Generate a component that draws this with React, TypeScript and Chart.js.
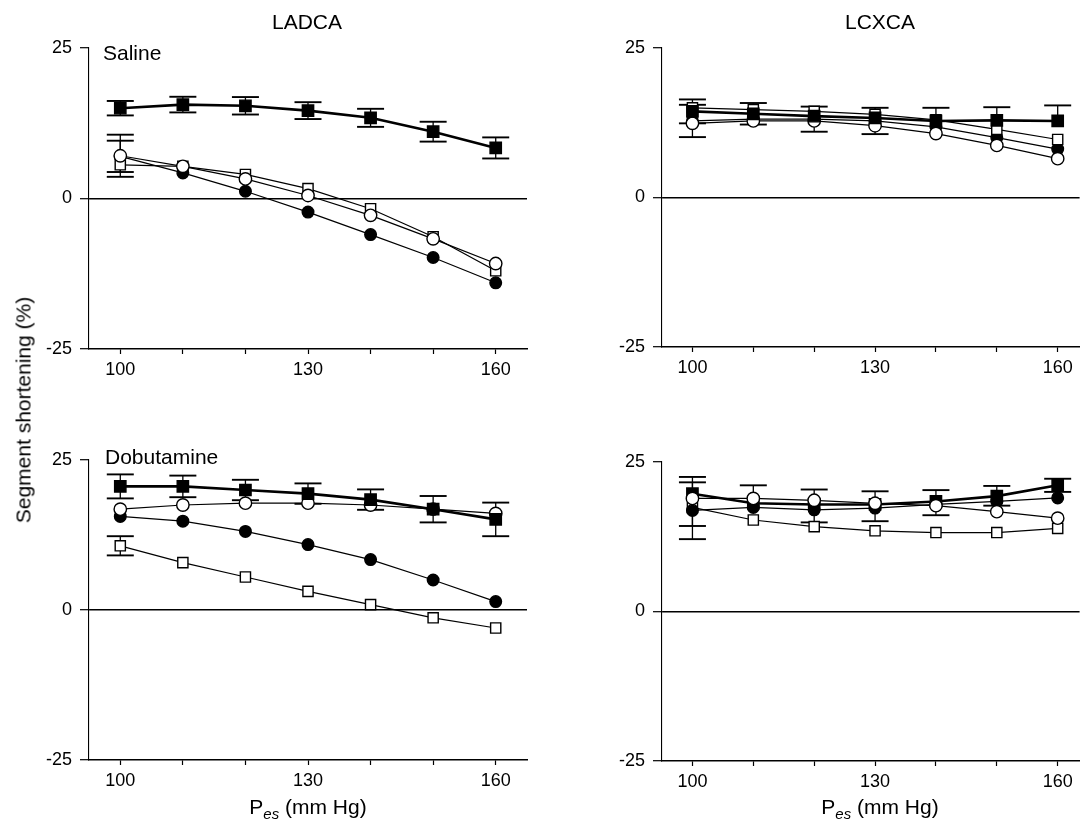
import React, { useEffect, useRef } from "react";
import { Chart, registerables } from "chart.js";

Chart.register(...registerables);

// ---------- data ----------
const pressure = [100, 110, 120, 130, 140, 150, 160];
const xTickValues = [100, 110, 120, 130, 140, 150, 160];
const xLabelled = [100, 130, 160];
const yTickValues = [-25, 0, 25];

// LADCA, saline
const ladSalFilledSq = [15.0, 15.6, 15.4, 14.6, 13.4, 11.1, 8.4];
const ladSalFilledSqErr = [1.2, 1.3, 1.45, 1.4, 1.5, 1.65, 1.75];
const ladSalOpenSq = [5.6, 5.35, 4.0, 1.65, -1.7, -6.35, -12.0];
const ladSalFilledCi = [7.0, 4.25, 1.2, -2.25, -6.0, -9.8, -14.0];
const ladSalFilledCiErr = [2.6, 0, 0, 0, 0, 0, 0];
const ladSalOpenCi = [7.1, 5.35, 3.25, 0.5, -2.8, -6.7, -10.8];
const ladSalOpenCiErr = [3.5, 0, 0, 0, 0, 0, 0];

// LCXCA, saline
const lcxSalFilledSq = [14.4, 14.0, 13.6, 13.3, 12.8, 12.9, 12.8];
const lcxSalFilledSqErrUp = [2.0, 1.8, 0, 0, 2.2, 2.2, 2.6];
const lcxSalFilledSqErrDown = [2.0, 1.8, 0, 0, 0, 0, 0];
const lcxSalOpenSq = [15.0, 14.7, 14.4, 13.9, 13.0, 11.4, 9.7];
const lcxSalFilledCi = [12.8, 13.1, 13.1, 12.8, 11.8, 10.0, 8.1];
const lcxSalFilledCiErr = [2.7, 0, 2.1, 2.2, 0, 0, 0];
const lcxSalOpenCi = [12.4, 12.8, 12.8, 12.0, 10.7, 8.7, 6.5];

// LADCA, dobutamine
const ladDobFilledSq = [20.6, 20.6, 20.0, 19.4, 18.4, 16.8, 15.1];
const ladDobFilledSqErr = [2.0, 1.8, 1.7, 1.7, 1.7, 2.2, 2.8];
const ladDobOpenSq = [10.7, 7.9, 5.5, 3.1, 0.9, -1.3, -3.0];
const ladDobOpenSqErr = [1.6, 0, 0, 0, 0, 0, 0];
const ladDobFilledCi = [15.6, 14.8, 13.1, 10.9, 8.4, 5.0, 1.4];
const ladDobOpenCi = [16.8, 17.5, 17.8, 17.8, 17.5, 16.8, 16.1];

// LCXCA, dobutamine
const lcxDobFilledSq = [19.7, 18.1, 17.9, 17.9, 18.4, 19.3, 21.1];
const lcxDobFilledSqErrUp = [2.8, 0, 0, 0, 1.9, 1.7, 1.1];
const lcxDobFilledSqErrDown = [0, 0, 0, 0, 0, 0, 1.1];
const lcxDobOpenSq = [17.4, 15.3, 14.2, 13.5, 13.2, 13.2, 13.9];
const lcxDobOpenSqErrDown = [3.1, 0, 0, 0, 0, 0, 0];
const lcxDobFilledCi = [16.9, 17.4, 17.0, 17.3, 17.9, 18.4, 19.0];
const lcxDobFilledCiErrDown = [4.8, 0, 2.1, 2.2, 0, 0.7, 0];
const lcxDobOpenCi = [18.9, 18.9, 18.6, 18.1, 17.7, 16.7, 15.6];
const lcxDobOpenCiErrUp = [2.7, 2.2, 1.8, 2.0, 0, 0, 0];
const lcxDobOpenCiErrDown = [0, 0, 0, 0, 1.6, 0, 0];

const zeros = [0, 0, 0, 0, 0, 0, 0];
const FONT = "'Liberation Sans', Arial, Helvetica, sans-serif";

type Kind = "fsq" | "osq" | "fci" | "oci";

function makeDataset(kind: Kind, values: number[], errUp: number[] = zeros, errDown: number[] = errUp) {
  const filled = kind === "fsq" || kind === "fci";
  const square = kind === "fsq" || kind === "osq";
  return {
    data: pressure.map((p, i) => ({ x: p, y: values[i] })),
    errUp,
    errDown,
    borderColor: "#000",
    borderWidth: kind === "fsq" ? 2.6 : 1.25,
    backgroundColor: filled ? "#000" : "#fff",
    pointStyle: square ? "rect" : "circle",
    pointRadius: square ? (kind === "fsq" ? 8 : 7.2) : kind === "fci" ? 5.8 : 6.2,
    pointBackgroundColor: filled ? "#000" : "#fff",
    pointBorderColor: "#000",
    pointBorderWidth: 1.4,
    tension: 0,
    fill: false,
  };
}

const errorBarPlugin = {
  id: "errorBars",
  beforeDatasetsDraw(chart: any) {
    const { ctx } = chart;
    const xs = chart.scales.x;
    const ys = chart.scales.y;
    ctx.save();
    ctx.strokeStyle = "#000";
    chart.data.datasets.forEach((ds: any) => {
      ds.data.forEach((p: any, j: number) => {
        const up = ds.errUp ? ds.errUp[j] : 0;
        const dn = ds.errDown ? ds.errDown[j] : 0;
        const px = xs.getPixelForValue(p.x);
        const py = ys.getPixelForValue(p.y);
        const half = 13.5;
        const draw = (e: number) => {
          if (!e) return;
          const ey = ys.getPixelForValue(p.y + e);
          ctx.lineWidth = 1.3;
          ctx.beginPath();
          ctx.moveTo(px, py);
          ctx.lineTo(px, ey);
          ctx.stroke();
          ctx.lineWidth = 1.9;
          ctx.beginPath();
          ctx.moveTo(px - half, ey);
          ctx.lineTo(px + half, ey);
          ctx.stroke();
        };
        draw(up);
        draw(-dn);
      });
    });
    ctx.restore();
  },
};

interface PanelProps {
  left: number;
  top: number;
  width: number;
  height: number;
  yAxisWidth: number;
  xAxisHeight: number;
  padTop: number;
  padRight: number;
  xMax: number;
  datasets: any[];
}

function Panel(props: PanelProps) {
  const ref = useRef<HTMLCanvasElement | null>(null);
  useEffect(() => {
    if (!ref.current) return;
    const chart = new Chart(ref.current, {
      type: "line",
      data: { datasets: props.datasets },
      plugins: [errorBarPlugin],
      options: {
        animation: false,
        responsive: false,
        events: [],
        layout: { padding: { top: props.padTop, right: props.padRight, left: 0, bottom: 0 } },
        plugins: { legend: { display: false }, tooltip: { enabled: false }, title: { display: false } },
        scales: {
          x: {
            type: "linear",
            min: 95,
            max: props.xMax,
            afterBuildTicks: (s: any) => {
              s.ticks = xTickValues.map((v) => ({ value: v }));
            },
            afterFit: (s: any) => {
              s.height = props.xAxisHeight;
            },
            ticks: {
              autoSkip: false,
              maxRotation: 0,
              color: "#000",
              padding: 5,
              font: { family: FONT, size: 18 },
              callback: (v: any) => (xLabelled.includes(Number(v)) ? String(v) : ""),
            },
            grid: { display: true, drawOnChartArea: false, drawTicks: true, tickLength: 5, tickColor: "#000", tickWidth: 1.2 },
            border: { display: true, color: "#000", width: 1.4 },
          },
          y: {
            type: "linear",
            min: -25,
            max: 25,
            afterBuildTicks: (s: any) => {
              s.ticks = yTickValues.map((v) => ({ value: v }));
            },
            afterFit: (s: any) => {
              s.width = props.yAxisWidth;
            },
            ticks: {
              color: "#000",
              padding: 8,
              font: { family: FONT, size: 18 },
              callback: (v: any) => String(v),
            },
            grid: {
              display: true,
              drawOnChartArea: true,
              drawTicks: true,
              tickLength: 9,
              tickColor: "#000",
              tickWidth: 1.2,
              lineWidth: 1.4,
              color: (c: any) => (c.tick && c.tick.value === 0 ? "#000" : "rgba(0,0,0,0)"),
            },
            border: { display: true, color: "#000", width: 1.1 },
          },
        },
      } as any,
    });
    return () => chart.destroy();
  }, []);
  return (
    <canvas
      ref={ref}
      width={props.width}
      height={props.height}
      style={{ position: "absolute", left: props.left, top: props.top, width: props.width, height: props.height }}
    />
  );
}

const textBase: React.CSSProperties = {
  position: "absolute",
  fontFamily: FONT,
  fontSize: 21,
  color: "#000",
  lineHeight: 1,
  whiteSpace: "nowrap",
};

function Centered({ x, y, children, extra }: { x: number; y: number; children: any; extra?: React.CSSProperties }) {
  return <div style={{ ...textBase, left: x, top: y, transform: "translate(-50%, -50%)", ...extra }}>{children}</div>;
}

function XTitle({ x }: { x: number }) {
  return (
    <Centered x={x} y={808}>
      P<sub style={{ fontStyle: "italic", fontSize: 15, verticalAlign: "-5px" }}>es</sub> (mm Hg)
    </Centered>
  );
}

export default function App() {
  const tl = [
    makeDataset("fsq", ladSalFilledSq, ladSalFilledSqErr),
    makeDataset("oci", ladSalOpenCi, ladSalOpenCiErr),
    makeDataset("osq", ladSalOpenSq),
    makeDataset("fci", ladSalFilledCi, ladSalFilledCiErr),
  ];
  const tr = [
    makeDataset("fsq", lcxSalFilledSq, lcxSalFilledSqErrUp, lcxSalFilledSqErrDown),
    makeDataset("osq", lcxSalOpenSq),
    makeDataset("oci", lcxSalOpenCi),
    makeDataset("fci", lcxSalFilledCi, lcxSalFilledCiErr),
  ];
  const bl = [
    makeDataset("fsq", ladDobFilledSq, ladDobFilledSqErr),
    makeDataset("oci", ladDobOpenCi),
    makeDataset("fci", ladDobFilledCi),
    makeDataset("osq", ladDobOpenSq, ladDobOpenSqErr),
  ];
  const br = [
    makeDataset("oci", lcxDobOpenCi, lcxDobOpenCiErrUp, lcxDobOpenCiErrDown),
    makeDataset("fsq", lcxDobFilledSq, lcxDobFilledSqErrUp, lcxDobFilledSqErrDown),
    makeDataset("fci", lcxDobFilledCi, zeros, lcxDobFilledCiErrDown),
    makeDataset("osq", lcxDobOpenSq, zeros, lcxDobOpenSqErrDown),
  ];
  return (
    <div style={{ position: "absolute", left: 0, top: 0, width: 1089, height: 828, overflow: "hidden", background: "#fff" }}>
      <Panel left={0} top={0} width={540} height={400} yAxisWidth={89} xAxisHeight={51} padTop={48} padRight={13} xMax={165} datasets={tl} />
      <Panel left={545} top={0} width={544} height={400} yAxisWidth={117} xAxisHeight={53} padTop={48} padRight={0} xMax={163.6} datasets={tr} />
      <Panel left={0} top={410} width={540} height={418} yAxisWidth={89} xAxisHeight={68} padTop={50} padRight={13} xMax={165} datasets={bl} />
      <Panel left={545} top={410} width={544} height={418} yAxisWidth={117} xAxisHeight={67} padTop={52} padRight={0} xMax={163.6} datasets={br} />

      <Centered x={307} y={21}>LADCA</Centered>
      <Centered x={880} y={21}>LCXCA</Centered>
      <div style={{ ...textBase, left: 103, top: 52, transform: "translateY(-50%)" }}>Saline</div>
      <div style={{ ...textBase, left: 105, top: 456, transform: "translateY(-50%)" }}>Dobutamine</div>
      <Centered x={23} y={410} extra={{ transform: "translate(-50%, -50%) rotate(-90deg)" }}>
        Segment shortening (%)
      </Centered>
      <XTitle x={308} />
      <XTitle x={880} />
    </div>
  );
}
